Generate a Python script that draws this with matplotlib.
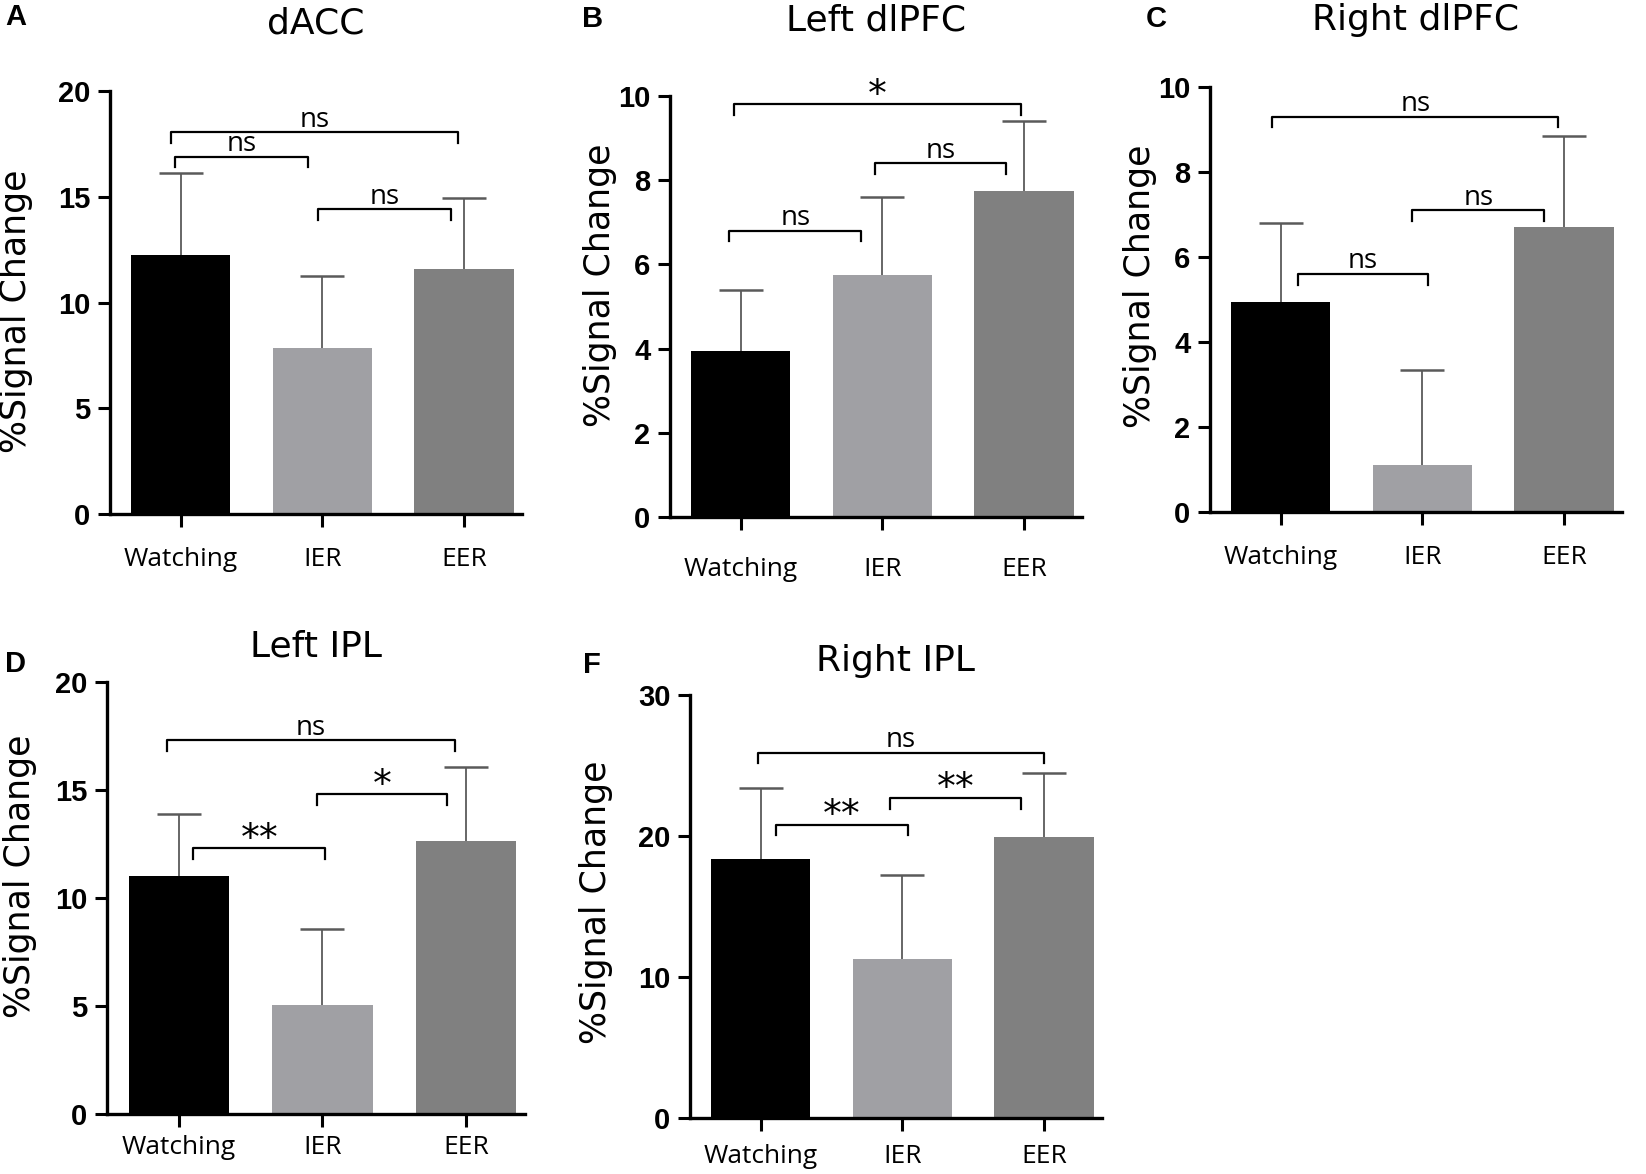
import numpy as np
import matplotlib.pyplot as plt

conditions = ['Watching', 'IER', 'EER']
bar_colors = ['#000000', '#a0a0a4', '#808080']

# bar heights and tops of the error bars (mean + SEM)
dacc_mean = [12.25, 7.85, 11.6]
dacc_top = [16.1, 11.25, 14.95]
ldlpfc_mean = [3.95, 5.75, 7.75]
ldlpfc_top = [5.4, 7.6, 9.4]
rdlpfc_mean = [4.95, 1.1, 6.7]
rdlpfc_top = [6.8, 3.35, 8.85]
lipl_mean = [11.0, 5.05, 12.65]
lipl_top = [13.9, 8.55, 16.05]
ripl_mean = [18.4, 11.3, 19.9]
ripl_top = [23.4, 17.25, 24.5]

# significance brackets: (x start, x end, height, label)
dacc_brackets = [(-0.04, 0.90, 16.9, 'ns'), (-0.07, 1.96, 18.05, 'ns'), (0.97, 1.91, 14.4, 'ns')]
ldlpfc_brackets = [(-0.08, 0.85, 6.8, 'ns'), (0.95, 1.87, 8.4, 'ns'), (-0.05, 1.98, 9.8, '*')]
rdlpfc_brackets = [(0.12, 1.04, 5.6, 'ns'), (0.93, 1.86, 7.1, 'ns'), (-0.06, 1.96, 9.3, 'ns')]
lipl_brackets = [(0.10, 1.02, 12.3, '**'), (0.96, 1.87, 14.8, '*'), (-0.08, 1.92, 17.3, 'ns')]
ripl_brackets = [(0.11, 1.04, 20.8, '**'), (0.91, 1.84, 22.7, '**'), (-0.02, 2.00, 25.9, 'ns')]

W, H = 1646, 1174
fig = plt.figure(figsize=(W / 100, H / 100), dpi=100)


def panel(left, top, bottom, width, means, tops, brackets, ymax, ystep,
          title, title_y, letter, letter_xy, xpad, ylab_xy):
    ax = fig.add_axes([left / W, 1 - bottom / H, width / W, (bottom - top) / H])
    x = np.arange(len(conditions))
    ax.bar(x, means, width=0.7, color=bar_colors, zorder=2)
    sem = np.array(tops) - np.array(means)
    eb = ax.errorbar(x, means, yerr=[np.zeros(len(x)), sem], fmt='none',
                     ecolor='#5a5a5a', elinewidth=1.3, capsize=16, capthick=1.8, zorder=3)
    eb[1][0].set_visible(False)  # no lower cap

    drop = ymax * 0.025
    for x1, x2, y, lab in brackets:
        ax.plot([x1, x1, x2, x2], [y - drop, y, y, y - drop], color='black', lw=1.6,
                clip_on=False, zorder=4)
        if lab == 'ns':
            ax.annotate(lab, xy=((x1 + x2) / 2, y), xytext=(0, 4), textcoords='offset points',
                        ha='center', va='baseline', fontsize=20, family='Open Sans')
        else:
            ax.annotate(lab, xy=((x1 + x2) / 2, y), xytext=(0, -1), textcoords='offset points',
                        ha='center', va='baseline', fontsize=27, family='DejaVu Sans')

    ax.set_xlim(-0.5, 2.41)
    ax.set_ylim(0, ymax)
    ax.set_yticks(np.arange(0, ymax + 0.01, ystep))
    ax.set_xticks(x)
    ax.set_xticklabels(conditions, fontsize=19, family='Open Sans')
    for t in ax.get_yticklabels():
        t.set_fontsize(21)
        t.set_fontweight('bold')
        t.set_family('Liberation Sans')
    ax.tick_params(axis='both', length=9, width=2.2, direction='out')
    ax.tick_params(axis='x', pad=xpad)
    ax.tick_params(axis='y', pad=5)
    for s in ['top', 'right']:
        ax.spines[s].set_visible(False)
    for s in ['left', 'bottom']:
        ax.spines[s].set_linewidth(2.4)
    ax.set_ylabel('%Signal Change', fontsize=25, family='DejaVu Sans')
    ax.yaxis.set_label_coords(*ylab_xy)
    ax.text(0.5, title_y, title, transform=ax.transAxes, ha='center', va='center',
            fontsize=26, family='DejaVu Sans')
    fig.text(letter_xy[0] / W, 1 - letter_xy[1] / H, letter, ha='left', va='center',
             fontsize=21, fontweight='bold', family='Liberation Sans')
    return ax


panel(110, 91, 514, 412, dacc_mean, dacc_top, dacc_brackets, 20, 5,
      'dACC', 1.16, 'A', (5, 17), 15, (-0.187, 0.48))
panel(670, 96, 517, 412, ldlpfc_mean, ldlpfc_top, ldlpfc_brackets, 10, 2,
      'Left dlPFC', 1.18, 'B', (582, 19), 20, (-0.129, 0.55))
panel(1210, 87, 512, 412, rdlpfc_mean, rdlpfc_top, rdlpfc_brackets, 10, 2,
      'Right dlPFC', 1.158, 'C', (1146, 19), 15, (-0.129, 0.53))
panel(107, 682, 1114, 418, lipl_mean, lipl_top, lipl_brackets, 20, 5,
      'Left IPL', 1.083, 'D', (5, 664), 6, (-0.167, 0.55))
panel(690, 695, 1118, 412, ripl_mean, ripl_top, ripl_brackets, 30, 10,
      'Right IPL', 1.08, 'F', (583, 665), 10, (-0.187, 0.51))

fig.savefig('out.png', dpi=100)
